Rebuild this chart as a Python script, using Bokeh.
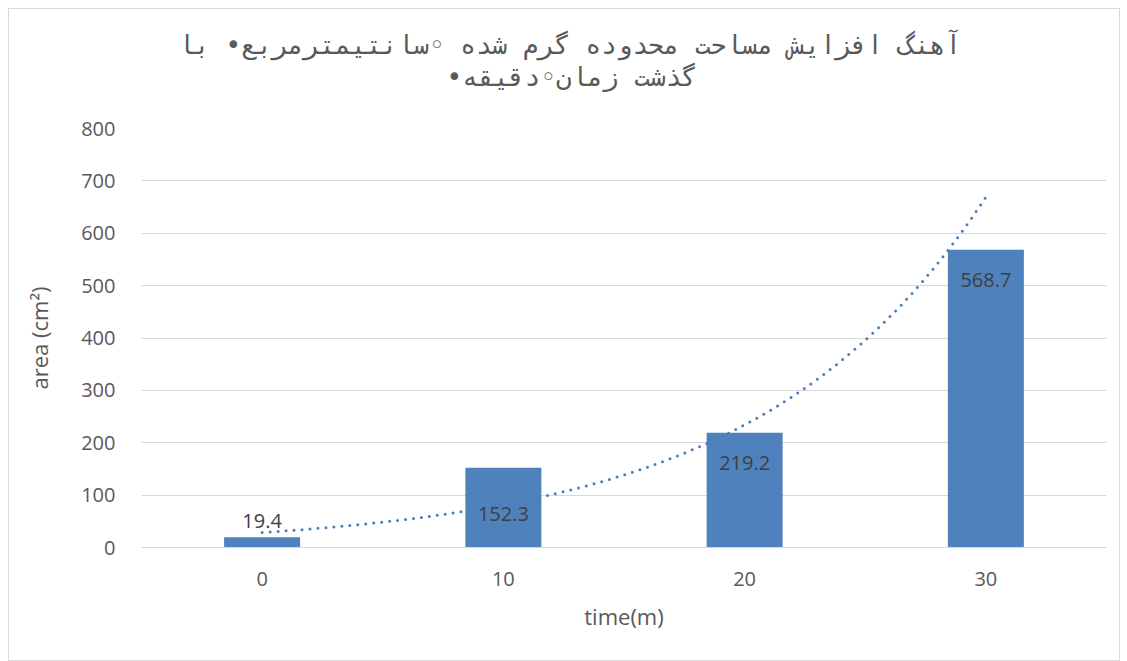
import numpy as np
from bokeh.plotting import figure
from bokeh.models import ColumnDataSource, Range1d, FixedTicker, Title
from bokeh.embed import file_html
from bokeh.resources import INLINE

# ---- data ----
time_labels = ["0", "10", "20", "30"]
area_values = [19.4, 152.3, 219.2, 568.7]
y_ticks = [0, 100, 200, 300, 400, 500, 600, 700, 800]
title_line1 = "آهنگ افزایش مساحت محدوده گرم شده ◦سانتیمترمربع• با"
title_line2 = "گذشت زمان◦دقیقه•"

# ---- styles ----
BAR = "#4f81bd"
GRID = "#d9d9d9"
TXT = "#595959"
LBL = "#404040"
FONT = "Open Sans"
RLE, PDF = "\u202B", "\u202C"

xs = list(range(len(time_labels)))

p = figure(width=1112, height=653, output_backend="svg", toolbar_location=None,
           x_range=Range1d(-0.5, len(xs) - 0.5), y_range=Range1d(0, 800),
           min_border_left=132, min_border_right=15, min_border_top=119,
           min_border_bottom=115)
p.margin = (8, 0, 0, 8)
p.styles = {"border": "1px solid #d9d9d9"}
p.outline_line_color = None
p.background_fill_color = "white"
p.border_fill_color = "white"

# two-line title (spacer first, then lines bottom-up)
p.add_layout(Title(text=" ", text_font_size="1px", standoff=34), "above")
p.add_layout(Title(text=RLE + title_line2 + PDF, align="left", offset=305,
                   text_font="DejaVu Sans Mono", text_font_size="26px",
                   text_color=TXT, text_font_style="normal", standoff=0), "above")
p.add_layout(Title(text=RLE + title_line1 + PDF, align="left", offset=37,
                   text_font="DejaVu Sans Mono", text_font_size="26px",
                   text_color=TXT, text_font_style="normal", standoff=0), "above")

src = ColumnDataSource(dict(x=xs, top=area_values))
p.vbar(x="x", top="top", width=0.315, source=src, fill_color=BAR, line_color=None)

# exponential trendline (least squares on log values, as Excel does)
xi = np.arange(1, len(area_values) + 1)
b, lna = np.polyfit(xi, np.log(area_values), 1)
xt = np.linspace(0, len(xs) - 1, 200)
yt = np.exp(lna + b * (xt + 1))
p.line(xt, yt, line_color="#4a7ebb", line_width=3, line_dash="0 8",
       line_cap="round")

# data labels
label_dy = [16, -46, -30, -30]
for i, v in enumerate(area_values):
    p.text(x=[xs[i]], y=[v], text=[f"{v:.1f}"], y_offset=-label_dy[i],
           text_align="center", text_baseline="middle",
           text_font_size="20px", text_color=LBL, text_font={"value": FONT})

# axes
p.xaxis.ticker = FixedTicker(ticks=xs)
p.xaxis.major_label_overrides = {i: s for i, s in zip(xs, time_labels)}
p.yaxis.ticker = FixedTicker(ticks=y_ticks)
for ax in (p.xaxis, p.yaxis):
    ax.major_tick_line_color = None
    ax.minor_tick_line_color = None
    ax.major_label_text_font = FONT
    ax.major_label_text_font_size = "20px"
    ax.major_label_text_color = TXT
    ax.axis_label_text_font = FONT
    ax.axis_label_text_font_size = "22px"
    ax.axis_label_text_color = TXT
    ax.axis_label_text_font_style = "normal"
p.xaxis.axis_line_color = GRID
p.yaxis.axis_line_color = None
p.xaxis.major_label_standoff = 18
p.yaxis.major_label_standoff = 20
p.xaxis.axis_label = "time(m)"
p.yaxis.axis_label = "area (cm²)"
p.xaxis.axis_label_standoff = 12
p.yaxis.axis_label_standoff = 24

p.xgrid.grid_line_color = None
p.ygrid.grid_line_color = GRID
p.ygrid.grid_line_width = 1

open("out.html", "w").write(file_html(p, INLINE))
